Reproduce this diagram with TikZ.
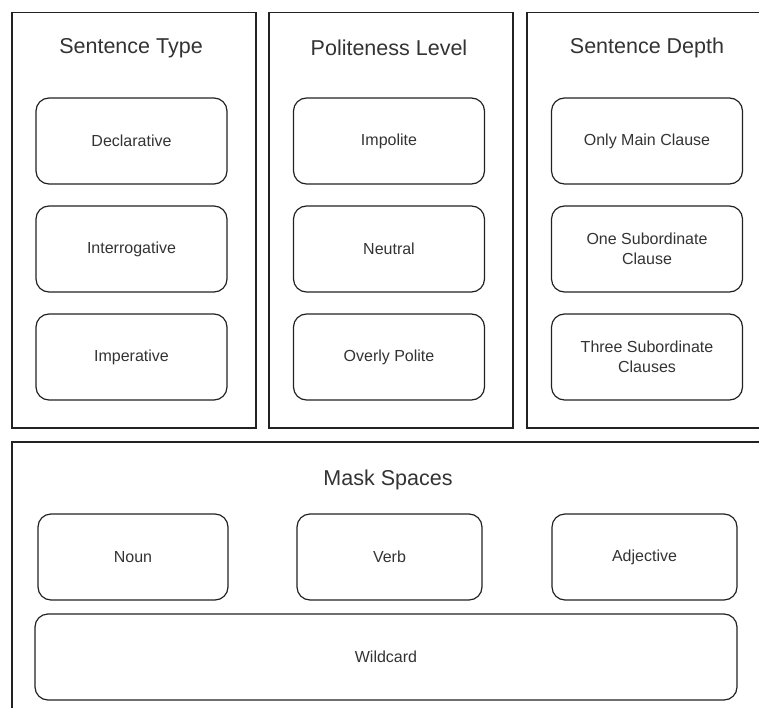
\documentclass[tikz,border=0pt]{standalone}
\usepackage{fontspec}
\setmainfont{Liberation Sans}
\definecolor{inktext}{HTML}{333333}
\definecolor{inkline}{HTML}{222222}
\tikzset{
  panel/.style={draw=inkline, line width=1.2pt},
  paneltitle/.style={text=inktext, font=\fontsize{21.5}{25}\selectfont, inner sep=0pt},
  itembox/.style={draw=inkline, line width=1.2pt, rounded corners=13pt,
    minimum height=86pt, inner sep=2pt, align=center, text=inktext,
    font=\fontsize{16}{20}\selectfont},
}
\begin{document}
\begin{tikzpicture}[x=1pt, y=-1pt]
\useasboundingbox (0,0) rectangle (759,708);
\clip (0,0) rectangle (759,708);

% three category panels
\draw[panel] (12,12.5) rectangle (256,428);
\draw[panel] (269,12.5) rectangle (513,428);
\draw[panel] (527,12.5) rectangle (771,428);
% mask panel, running past the page edge
\draw[panel] (12,442) rectangle (771,720);

% panel titles
\node[paneltitle] (ttype)  at (131,48) {Sentence Type};
\node[paneltitle] (tpol)   at (389,48) {Politeness Level};
\node[paneltitle] (tdepth) at (647,48) {Sentence Depth};
\node[paneltitle] (tmask)  at (388,480) {Mask Spaces};

% sentence type
\node[itembox, minimum width=191pt] (decl)  at (131.5,141) {Declarative};
\node[itembox, minimum width=191pt] (inter) at (131.5,249) {Interrogative};
\node[itembox, minimum width=191pt] (imper) at (131.5,357) {Imperative};

% politeness level
\node[itembox, minimum width=191pt] (impol)   at (389,141) {Impolite};
\node[itembox, minimum width=191pt] (neutral) at (389,249) {Neutral};
\node[itembox, minimum width=191pt] (overly)  at (389,357) {Overly Polite};

% sentence depth
\node[itembox, minimum width=191pt] (mainc) at (647,141) {Only Main Clause};
\node[itembox, minimum width=191pt] (onesub) at (647,249) {One Subordinate\\Clause};
\node[itembox, minimum width=191pt] (threesub) at (647,357) {Three Subordinate\\Clauses};

% mask spaces
\node[itembox, minimum width=190pt] (noun) at (133,557) {Noun};
\node[itembox, minimum width=185pt] (verb) at (389.5,557) {Verb};
\node[itembox, minimum width=185pt] (adj)  at (644.5,557) {Adjective};
\node[itembox, minimum width=702pt] (wild) at (386,657) {Wildcard};
\end{tikzpicture}
\end{document}
